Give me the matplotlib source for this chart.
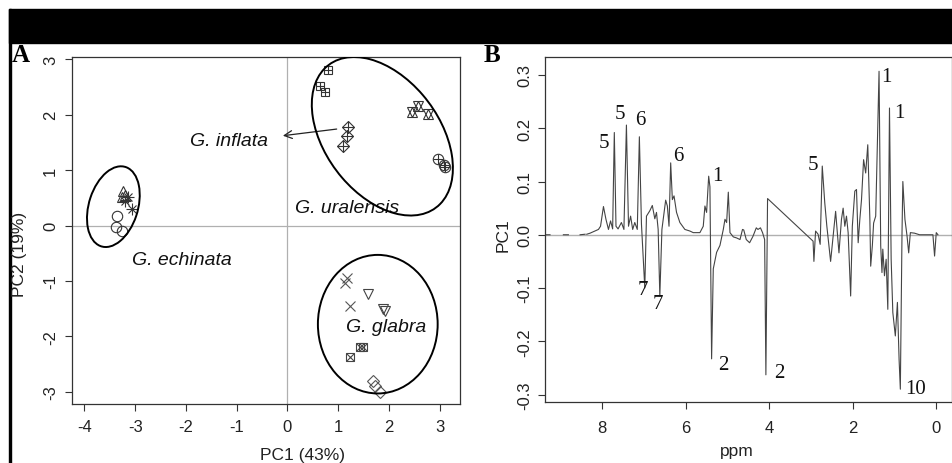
import matplotlib
matplotlib.use('Agg')
import matplotlib.pyplot as plt
import numpy as np
from matplotlib.patches import Ellipse, Rectangle

plt.rcParams['font.family'] = ['Liberation Sans', 'DejaVu Sans']
plt.rcParams['axes.unicode_minus'] = False

# ---- panel A: PCA scores (PC1, PC2) ----
echinata_circle_x = [-3.36, -3.38, -3.26]
echinata_circle_y = [0.17, -0.03, -0.10]
echinata_tri_x = [-3.24, -3.26, -3.20]
echinata_tri_y = [0.62, 0.51, 0.55]
echinata_star_x = [-3.14, -3.07, -3.20]
echinata_star_y = [0.51, 0.30, 0.45]

uralensis_sqplus_x = [0.80, 0.64, 0.74]
uralensis_sqplus_y = [2.80, 2.52, 2.41]
uralensis_david_x = [2.45, 2.58, 2.77]
uralensis_david_y = [2.04, 2.16, 2.01]
uralensis_circplus_x = [2.97, 3.10, 3.08]
uralensis_circplus_y = [1.20, 1.06, 1.10]

inflata_diaplus_x = [1.19, 1.17, 1.10]
inflata_diaplus_y = [1.78, 1.62, 1.44]

glabra_cross_x = [1.13, 1.18, 1.23]
glabra_cross_y = [-1.03, -0.94, -1.46]
glabra_tridown_x = [1.59, 1.89, 1.92]
glabra_tridown_y = [-1.24, -1.50, -1.55]
glabra_sqx_x = [1.23, 1.43, 1.49]
glabra_sqx_y = [-2.38, -2.20, -2.20]
glabra_diamond_x = [1.69, 1.73, 1.82]
glabra_diamond_y = [-2.81, -2.90, -3.00]

# ---- panel B: PC1 loadings vs chemical shift ----
nan = np.nan
ppm = [9.35, 9.25, nan, 8.93, 8.81, nan, 8.53, 8.41, nan,
       8.37, 8.29, 8.09, 8.04, 7.97, 7.91, 7.85, 7.80, 7.75, 7.71, 7.67,
       7.62, 7.54, 7.48, 7.42, 7.37, 7.32, 7.27, 7.22, 7.16, 7.11, 7.06,
       6.98, 6.94, 6.86, 6.80, 6.74, 6.70, 6.66, 6.62, 6.57, 6.48, 6.44,
       6.40, 6.36, 6.32, 6.28, 6.22, 6.14, 6.02, 5.90, 5.82, 5.66, 5.58,
       5.54, 5.50, 5.45, 5.42, 5.38, 5.34, 5.26, 5.18, 5.10, 5.06, 5.02,
       4.98, 4.94, 4.86, 4.78, 4.70, 4.64, 4.61, 4.55, 4.47, 4.39, 4.31,
       4.27, 4.21, 4.16, 4.11, 4.08, 4.05, 4.04,
       2.95, 2.93, 2.89, 2.83, 2.78, 2.73, 2.67, 2.62, 2.53, 2.47, 2.41,
       2.37, 2.33, 2.27, 2.23, 2.19, 2.15, 2.11, 2.05, 2.01, 1.95, 1.91,
       1.87, 1.83, 1.79, 1.74, 1.69, 1.64, 1.59, 1.57, 1.53, 1.50, 1.45,
       1.37, 1.33, 1.30, 1.28, 1.24, 1.20, 1.16, 1.12, 1.08, 1.04, 0.98,
       0.93, 0.89, 0.86, 0.82, 0.80, 0.75, 0.70, 0.66, 0.62, 0.52, 0.40,
       0.08, 0.04, 0.00, -0.04]
pc1 = [0.0, 0.0, nan, 0.0, 0.0, nan, 0.0, 0.001, nan,
       0.001, 0.003, 0.010, 0.016, 0.053, 0.029, 0.010, 0.026, 0.011, 0.192, 0.016,
       0.011, 0.023, 0.010, 0.206, 0.016, 0.035, 0.010, 0.023, 0.010, 0.184, 0.020,
       -0.100, 0.035, 0.045, 0.055, 0.030, 0.042, 0.010, -0.115, 0.010, 0.065, 0.054,
       0.016, 0.135, 0.066, 0.073, 0.042, 0.023, 0.010, 0.007, 0.004, 0.004, 0.016,
       0.054, 0.042, 0.110, 0.090, -0.233, -0.064, -0.033, -0.020, 0.010, 0.029, 0.023,
       0.080, 0.004, -0.004, -0.006, -0.009, 0.010, 0.009, -0.009, -0.015, -0.003, 0.013,
       0.010, 0.013, 0.004, -0.009, -0.263, 0.000, 0.068,
       -0.012, -0.050, 0.007, 0.001, -0.018, 0.129, 0.060, 0.016, -0.050, -0.002, 0.044,
       0.004, -0.034, 0.029, 0.050, 0.016, 0.035, 0.004, -0.115, 0.016, 0.082, 0.085,
       -0.015, 0.029, 0.066, 0.141, 0.116, 0.169, 0.029, -0.059, -0.020, 0.022, 0.035,
       0.307, -0.021, -0.071, -0.027, -0.077, -0.046, -0.140, 0.238, -0.046, -0.146, -0.190,
       -0.127, -0.234, -0.290, 0.004, 0.100, 0.029, -0.002, -0.034, 0.004, 0.003, 0.0,
       0.0, -0.040, 0.004, 0.0]

peak_labels = ['5', '5', '6', '6', '1', '5', '1', '1', '7', '7', '2', '2', '10']
peak_ppm = [7.97, 7.58, 7.08, 6.18, 5.25, 2.95, 1.20, 0.88, 7.03, 6.67, 5.09, 3.75, 0.49]
peak_val = [0.173, 0.227, 0.217, 0.148, 0.112, 0.132, 0.298, 0.230, -0.102, -0.130,
            -0.243, -0.258, -0.288]

W, H = 953, 464
fig = plt.figure(figsize=(W / 100, H / 100), dpi=100)

# black header bar and left rule
fig.patches.append(Rectangle((9 / W, 1 - 44 / H), 1, 34 / H, transform=fig.transFigure,
                             color='black', zorder=0))
fig.patches.append(Rectangle((9 / W, 0), 2 / W, 1 - 10 / H, transform=fig.transFigure,
                             color='black', zorder=0))

dark = '#333333'


def style_axes(ax):
    for s in ax.spines.values():
        s.set_color(dark)
        s.set_linewidth(0.9)
    ax.tick_params(direction='out', length=5, width=0.8, color=dark,
                   labelcolor='#222222', labelsize=12)


def pch(ax, xs, ys, kind, color='#333333', ms=7.5):
    kw = dict(linestyle='none', markerfacecolor='none', markeredgecolor=color,
              markeredgewidth=0.8, zorder=3)
    if kind == 'circle':
        ax.plot(xs, ys, marker='o', ms=ms, **kw)
    elif kind == 'tri_up':
        ax.plot(xs, ys, marker='^', ms=ms, **kw)
    elif kind == 'tri_down':
        ax.plot(xs, ys, marker='v', ms=ms, **kw)
    elif kind == 'cross':
        ax.plot(xs, ys, marker='x', ms=ms * 0.9, **kw)
    elif kind == 'star':
        ax.plot(xs, ys, marker='+', ms=ms * 1.1, **kw)
        ax.plot(xs, ys, marker='x', ms=ms * 0.8, **kw)
    elif kind == 'sq_plus':
        ax.plot(xs, ys, marker='s', ms=ms * 0.85, **kw)
        ax.plot(xs, ys, marker='+', ms=ms * 0.85, **kw)
    elif kind == 'sq_x':
        ax.plot(xs, ys, marker='s', ms=ms * 0.85, **kw)
        ax.plot(xs, ys, marker='x', ms=ms * 0.85, **kw)
    elif kind == 'dia_plus':
        ax.plot(xs, ys, marker='D', ms=ms * 0.75, **kw)
        ax.plot(xs, ys, marker='+', ms=ms * 1.1, **kw)
    elif kind == 'diamond':
        ax.plot(xs, ys, marker='D', ms=ms * 0.75, **kw)
    elif kind == 'david':
        ax.plot(xs, ys, marker='^', ms=ms, **kw)
        ax.plot(xs, ys, marker='v', ms=ms, **kw)
    elif kind == 'circ_plus':
        ax.plot(xs, ys, marker='o', ms=ms, **kw)
        ax.plot(xs, ys, marker='+', ms=ms, **kw)


# ---------------- panel A ----------------
axA = fig.add_axes([72 / W, 1 - 405 / H, 388 / W, 347 / H])
axA.set_xlim(-4.245, 3.40)
axA.set_ylim(-3.22, 3.04)
axA.axhline(0, color='#b0b0b0', lw=0.9, zorder=1)
axA.axvline(0, color='#b0b0b0', lw=0.9, zorder=1)

pch(axA, echinata_circle_x, echinata_circle_y, 'circle')
pch(axA, echinata_tri_x, echinata_tri_y, 'tri_up')
pch(axA, echinata_star_x, echinata_star_y, 'star')
pch(axA, uralensis_sqplus_x, uralensis_sqplus_y, 'sq_plus')
pch(axA, uralensis_david_x, uralensis_david_y, 'david')
pch(axA, uralensis_circplus_x, uralensis_circplus_y, 'circ_plus')
pch(axA, inflata_diaplus_x, inflata_diaplus_y, 'dia_plus')
pch(axA, glabra_cross_x, glabra_cross_y, 'cross', color='#555555')
pch(axA, glabra_tridown_x, glabra_tridown_y, 'tri_down', color='#444444')
pch(axA, glabra_sqx_x, glabra_sqx_y, 'sq_x', color='#444444')
pch(axA, glabra_diamond_x, glabra_diamond_y, 'diamond', color='#555555')

for (cx, cy), w, h, ang in [((-3.43, 0.34), 0.96, 1.51, -20),
                            ((1.87, 1.61), 3.34, 2.18, -47),
                            ((1.78, -1.78), 2.36, 2.50, 0)]:
    axA.add_patch(Ellipse((cx, cy), w, h, angle=ang, fill=False,
                          edgecolor='black', lw=1.4, zorder=4))

axA.annotate('', xy=(-0.09, 1.62), xytext=(0.97, 1.74),
             arrowprops=dict(arrowstyle='->', color='#222222', lw=0.9,
                             shrinkA=0, shrinkB=0, mutation_scale=14))
ital = dict(fontsize=14, style='italic', color='#111111', ha='center', va='center')
axA.text(-1.15, 1.54, 'G. inflata', **ital)
axA.text(1.17, 0.33, 'G. uralensis', **ital)
axA.text(-2.08, -0.61, 'G. echinata', **ital)
axA.text(1.94, -1.82, 'G. glabra', **ital)

axA.set_xticks([-4, -3, -2, -1, 0, 1, 2, 3])
axA.set_xticklabels(['-4', '-3', '-2', '-1', '0', '1', '2', '3'])
axA.set_yticks([-3, -2, -1, 0, 1, 2, 3])
axA.set_yticklabels(['-3', '-2', '-1', '0', '1', '2', '3'], rotation=90, va='center')
style_axes(axA)
axA.tick_params(axis='x', pad=6)
axA.tick_params(axis='y', pad=5)

# ---------------- panel B ----------------
axB = fig.add_axes([545 / W, 1 - 403.3 / H, 406.7 / W, 345.3 / H])
axB.set_xlim(9.37, -0.37)
axB.set_ylim(-0.3146, 0.3338)
axB.axhline(0, color='#b0b0b0', lw=1.0, zorder=1)
axB.plot(ppm, pc1, color='#444444', lw=0.8, zorder=2)
for lab, xp, yv in zip(peak_labels, peak_ppm, peak_val):
    axB.text(xp, yv, lab, family=['Liberation Serif', 'DejaVu Serif'], fontsize=15,
             color='#111111', ha='center', va='center')
axB.set_xticks([8, 6, 4, 2, 0])
axB.set_xticklabels(['8', '6', '4', '2', '0'])
yt = [-0.3, -0.2, -0.1, 0.0, 0.1, 0.2, 0.3]
axB.set_yticks(yt)
axB.set_yticklabels(['%.1f' % v for v in yt], rotation=90, va='center')
style_axes(axB)
axB.tick_params(axis='x', pad=8)
axB.tick_params(axis='y', pad=4)

# labels
serif_bold = dict(family=['Liberation Serif', 'DejaVu Serif'], fontsize=18,
                  weight='bold', ha='center', va='center')
fig.text(21 / W, 1 - 56 / H, 'A', **serif_bold)
fig.text(492 / W, 1 - 56 / H, 'B', **serif_bold)
fig.text(303 / W, 1 - 456 / H, 'PC1 (43%)', fontsize=12.5, ha='center', va='center',
         color='#222222')
fig.text(737 / W, 1 - 452 / H, 'ppm', fontsize=12.5, ha='center', va='center',
         color='#222222')
fig.text(20 / W, 1 - 254 / H, 'PC2 (19%)', fontsize=12.5, rotation=90, ha='center',
         va='center', color='#222222')
fig.text(503 / W, 1 - 235 / H, 'PC1', fontsize=12.5, rotation=90, ha='center',
         va='center', color='#222222')

fig.savefig('out.png', dpi=100)
